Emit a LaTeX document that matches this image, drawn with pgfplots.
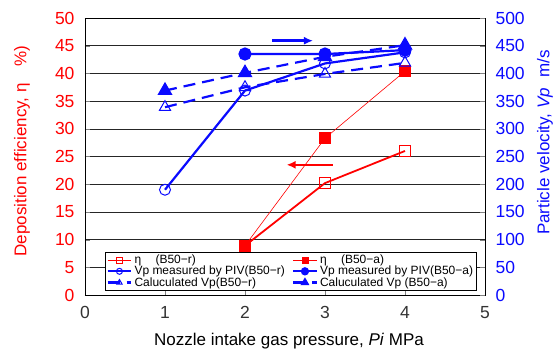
\documentclass[border=0pt]{standalone}
\usepackage{fontspec}
\setmainfont{Liberation Sans}
\usepackage{pgfplots}
\pgfplotsset{compat=1.18}
\usetikzlibrary{arrows.meta}
\definecolor{myred}{RGB}{255,0,0}
\definecolor{myblue}{RGB}{10,10,255}
\begin{document}
\begin{tikzpicture}
\useasboundingbox (-85pt,-54pt) rectangle (472pt,295pt);
\pgfplotsset{
  every axis/.append style={
    scale only axis, width=400pt, height=277pt,
    at={(0,0)}, anchor=south west,
    xmin=0, xmax=5,
    /pgf/number format/assume math mode=true,
    tick label style={font=\fontsize{17.5}{20}\selectfont},
    label style={font=\fontsize{17}{20}\selectfont},
    tick align=inside,
    major tick length=5pt,
  }
}
\begin{axis}[
  ymin=0, ymax=50,
  xtick={0,1,2,3,4,5},
  ytick={0,5,...,50},
  xtick pos=bottom,
  ytick pos=left,
  ymajorgrids,
  major grid style={black!85, line width=0.6pt},
  axis line style={black, line width=0.8pt},
  yticklabel style={text=myred, xshift=-7pt},
  xticklabel style={yshift=-8pt, text=black!80},
  xlabel={Nozzle intake gas pressure, \textit{Pi} MPa},
  ylabel={Deposition efficiency, η\hspace{1em}\%)},
  ylabel style={text=myred, at={(axis description cs:-0.1575,0.52)}, anchor=center},
  xlabel style={at={(axis description cs:0.51,-0.166)}, anchor=center},
]
\addplot[myred, line width=1.8pt, mark=square, mark size=5.5pt, mark options={solid, fill=white, line width=1pt}]
  coordinates {(2,8.9) (3,20.2) (4,26.0)};
\addplot[myred, line width=0.6pt, mark=square*, mark size=5.5pt, mark options={solid, fill=myred}]
  coordinates {(2,8.9) (3,28.3) (4,40.4)};
\draw[-{Latex[length=9pt,width=8pt]}, myred, line width=2.5pt] (axis cs:3.1,23.5) -- (axis cs:2.52,23.5);
\draw[-{Latex[length=9pt,width=8pt]}, myblue, line width=2.5pt] (axis cs:2.34,45.9) -- (axis cs:2.85,45.9);
\end{axis}
\begin{axis}[
  ymin=0, ymax=500,
  ytick={0,50,...,500},
  axis y line*=right,
  axis x line=none,
  yticklabel style={text=myblue, xshift=7pt},
  ylabel={Particle velocity, \textit{Vp}\hspace{0.6em}m/s},
  ylabel style={text=myblue, at={(axis description cs:1.15,0.55)}, anchor=center},
  legend columns=2,
  legend style={at={(0.05,0.0144)}, anchor=south west, draw=black, line width=0.8pt,
    font=\fontsize{12}{13}\selectfont, inner sep=1pt, row sep=-3pt,
    /tikz/every even column/.append style={column sep=5pt}},
  legend cell align=left,
  legend image post style={mark size=3pt},
  legend image code/.code={
    \draw[mark repeat=2,mark phase=2] plot coordinates {(0cm,0cm) (0.42cm,0cm) (0.84cm,0cm)};
  },
]
\addlegendimage{myred, line width=1.2pt, mark=square, mark size=2.8pt, mark options={solid, fill=white, line width=0.8pt}}
\addlegendentry{η\hspace{1.2em}(B50−r)}
\addlegendimage{myred, line width=0.6pt, mark=square*, mark size=2.8pt, mark options={solid, fill=myred}}
\addlegendentry{η\hspace{1.2em}(B50−a)}
\addplot[myblue, line width=2.2pt, mark=o, mark size=5.5pt, mark options={solid, fill=white, line width=1pt}]
  coordinates {(1,190) (2,369) (3,418) (4,438)};
\addlegendentry{Vp measured by PIV(B50−r)}
\addplot[myblue, line width=2.2pt, mark=*, mark size=5.5pt, mark options={solid, fill=myblue}]
  coordinates {(2,435) (3,435) (4,442)};
\addlegendentry{Vp measured by PIV(B50−a)}
\addplot[myblue, line width=2.2pt, dash pattern=on 12pt off 7pt, mark=triangle, mark size=6.5pt, mark options={solid, fill=white, line width=1pt}]
  coordinates {(1,339) (2,375) (3,399) (4,419)};
\addlegendentry{Caluculated Vp(B50−r)}
\addplot[myblue, line width=2.2pt, dash pattern=on 12pt off 7pt, mark=triangle*, mark size=6.5pt, mark options={solid, fill=myblue}]
  coordinates {(1,369) (2,401) (3,430) (4,451)};
\addlegendentry{Caluculated Vp (B50−a)}
\end{axis}
\end{tikzpicture}
\end{document}
